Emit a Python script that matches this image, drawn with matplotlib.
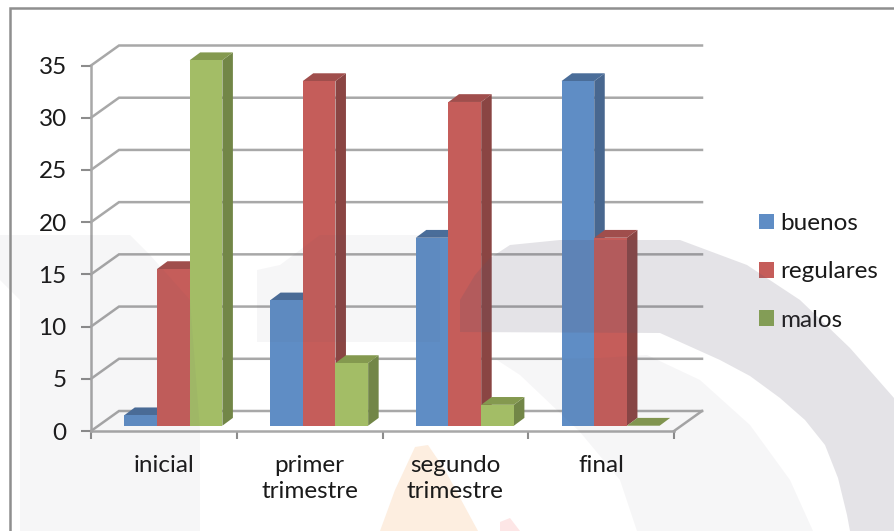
import matplotlib
matplotlib.use("Agg")
import matplotlib.pyplot as plt
from matplotlib.patches import Patch, Polygon

categories = ["inicial", "primer\ntrimestre", "segundo\ntrimestre", "final"]
series_names = ["buenos", "regulares", "malos"]
buenos = [1, 12, 18, 33]
regulares = [15, 33, 31, 18]
malos = [35, 6, 2, 0]
y_ticks = [0, 5, 10, 15, 20, 25, 30, 35]

front_cols = ["#5f8dc5", "#c55d5a", "#a3bd66"]
side_cols = ["#48678f", "#8a4543", "#728647"]
top_cols = ["#4a6d99", "#a04e4c", "#84994f"]
legend_cols = ["#5f8dc5", "#c55d5a", "#8cab53"]
grid_col = "#a8a8a8"

W, H = 894, 531
plt.rcParams["font.family"] = ["Lato", "DejaVu Sans"]
fig = plt.figure(figsize=(W / 100, H / 100), dpi=100)

# artwork that stays behind the chart and its labels
under = fig.add_axes([0, 0, 1, 1], zorder=-1)
under.set_xlim(0, W)
under.set_ylim(H, 0)
under.axis("off")
under.add_patch(Polygon([(415, 447), (428, 445), (445, 470), (478, 531), (380, 531), (395, 490)],
                        fc="#fdeee0", ec="none"))
under.add_patch(Polygon([(500, 522), (510, 518), (520, 531), (500, 531)], fc="#fde6e6", ec="none"))

# main axes sits on the front edge of the 3d box
left, right, top, bottom = 91, 674, 65.5, 431
ax = fig.add_axes([left / W, 1 - bottom / H, (right - left) / W, (bottom - top) / H])
ax.set_xlim(0, 4)
ax.set_ylim(0, 35)
ax.patch.set_alpha(0)

px_x = 4 / (right - left)
px_y = 35 / (bottom - top)
wall_dx, wall_dy = 28 * px_x, 20 * px_y
bar_dx, bar_dy = 10.5 * px_x, 7.8 * px_y
bar_w = 32.7 * px_x
base_y = 5.3 * px_y
group_off = 0.565

# back wall and side wall grid
for v in y_ticks:
    ax.plot([0, wall_dx, 4 + wall_dx], [v, v + wall_dy, v + wall_dy], color=grid_col,
            lw=1.8, clip_on=False, zorder=1, solid_joinstyle="miter")
ax.plot([4, 4 + wall_dx], [0, wall_dy], color=grid_col, lw=1.8, clip_on=False, zorder=1)

# bars, each one a front face plus side and top faces
for g in range(len(categories)):
    vals = [buenos[g], regulares[g], malos[g]]
    for s, v in enumerate(vals):
        x0 = g + group_off + (s - 1.5) * bar_w
        x1 = x0 + bar_w
        y1 = base_y + v
        z = 3 + g + s * 0.1
        ax.add_patch(Polygon([(x1, base_y), (x1 + bar_dx, base_y + bar_dy),
                              (x1 + bar_dx, y1 + bar_dy), (x1, y1)],
                             fc=side_cols[s], ec="none", clip_on=False, zorder=z))
        ax.add_patch(Polygon([(x0, y1), (x1, y1), (x1 + bar_dx, y1 + bar_dy),
                              (x0 + bar_dx, y1 + bar_dy)],
                             fc=top_cols[s], ec="none", clip_on=False, zorder=z))
        if v > 0:
            ax.bar(x0, v, width=bar_w, bottom=base_y, align="edge", color=front_cols[s],
                   clip_on=False, zorder=z + 0.01)

for name in ["top", "right"]:
    ax.spines[name].set_visible(False)
for name in ["left", "bottom"]:
    ax.spines[name].set_color(grid_col)
    ax.spines[name].set_linewidth(1.8)

ax.set_yticks(y_ticks)
ax.set_xticks(range(5))
ax.set_xticklabels([])
ax.set_xticks([i + 0.5 for i in range(4)], categories, minor=True)
ax.tick_params(axis="y", length=7, width=1.5, color="#8c8c8c", labelsize=17.5,
               labelcolor="#1a1a1a", pad=10.5)
ax.tick_params(axis="x", which="major", length=6, width=1.5, color="#8c8c8c", direction="out")
ax.tick_params(axis="x", which="minor", length=0, labelsize=17.5, labelcolor="#1a1a1a", pad=17)
for lab in ax.get_xticklabels(minor=True):
    lab.set_linespacing(1.32)

handles = [Patch(fc=c, ec="none", label=n) for c, n in zip(legend_cols, series_names)]
fig.legend(handles=handles, loc="upper left", bbox_to_anchor=(759 / W, 1 - 213 / H),
           frameon=False, fontsize=17.5, labelspacing=1.125, handlelength=0.62,
           handleheight=0.62, handletextpad=0.26, borderpad=0, borderaxespad=0,
           labelcolor="#1a1a1a")

# overlay in pixel coordinates: pale background artwork and the outer frame
over = fig.add_axes([0, 0, 1, 1], zorder=10)
over.set_xlim(0, W)
over.set_ylim(H, 0)
over.axis("off")

shade = (0.35, 0.33, 0.42)
dark_arc = [(460, 332), (460, 300), (475, 275), (490, 258), (510, 245), (560, 240), (680, 240),
            (747, 265), (800, 300), (850, 348), (894, 398), (894, 531), (850, 531), (847, 515),
            (838, 478), (825, 445), (805, 420), (780, 398), (750, 376), (720, 360), (660, 333)]
pale_arc = [(647, 355), (700, 380), (750, 425), (790, 480), (813, 531), (637, 531), (620, 480),
            (580, 432), (520, 375), (497, 360), (600, 358)]
pale_left = [(0, 235), (130, 235), (150, 255), (190, 300), (200, 430), (200, 531), (20, 531),
             (20, 300), (0, 280)]
pale_mid = [(257, 342), (257, 270), (280, 265), (320, 235), (440, 235), (440, 342)]
for pts, a in [(dark_arc, 0.16), (pale_arc, 0.05), (pale_left, 0.05), (pale_mid, 0.05)]:
    over.add_patch(Polygon(pts, fc=shade, ec="none", alpha=a))

over.plot([10, 10, W], [H, 7.5, 7.5], color="#8f8f8f", lw=1.8, solid_joinstyle="miter")

fig.savefig("out.png", dpi=100)
